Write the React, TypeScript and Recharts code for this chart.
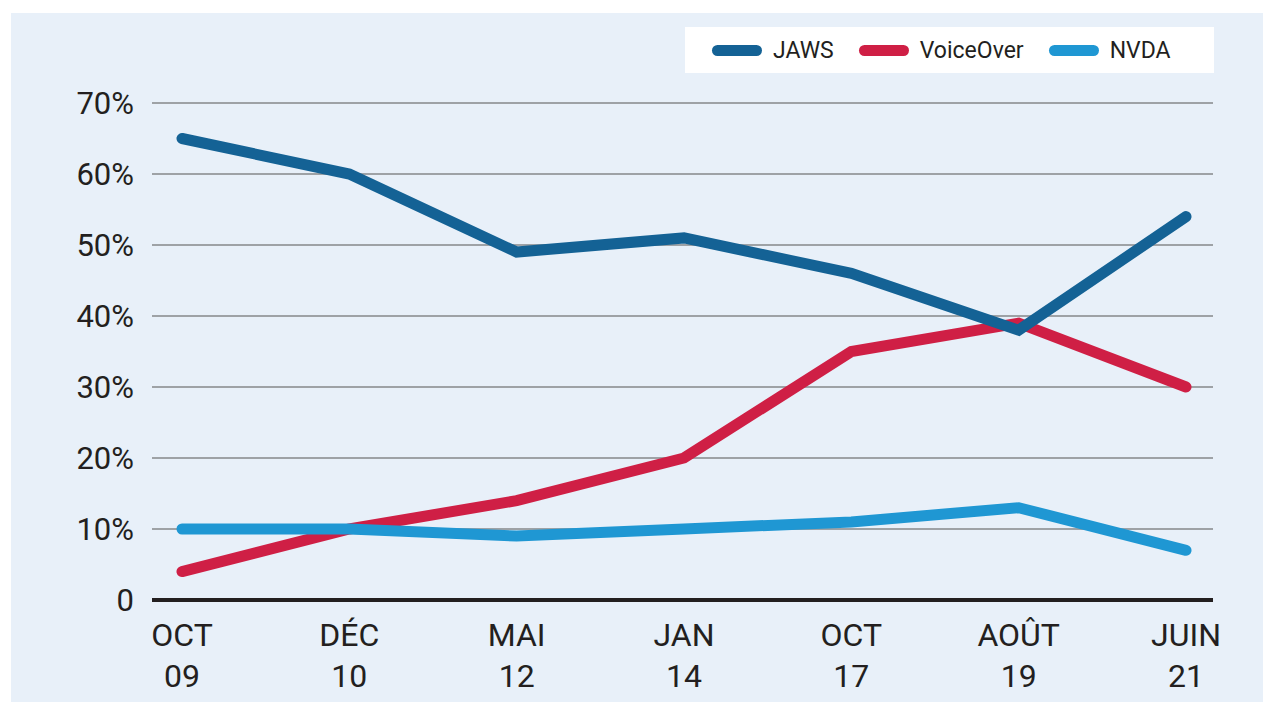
import React from "react";
import { LineChart, Line, XAxis, YAxis, CartesianGrid } from "recharts";

const months = ["OCT", "DÉC", "MAI", "JAN", "OCT", "AOÛT", "JUIN"];
const years = ["09", "10", "12", "14", "17", "19", "21"];
const jaws = [65, 60, 49, 51, 46, 38, 54];
const voiceOver = [4, 10, 14, 20, 35, 39, 30];
const nvda = [10, 10, 9, 10, 11, 13, 7];
const yTicks = [0, 10, 20, 30, 40, 50, 60, 70];

const seriesInfo = [
  { key: "jaws", name: "JAWS", color: "#146295" },
  { key: "voiceOver", name: "VoiceOver", color: "#cf1f45" },
  { key: "nvda", name: "NVDA", color: "#1f97d3" },
];

const data = months.map((m, i) => ({
  id: `${m} ${years[i]}`,
  month: m,
  year: years[i],
  jaws: jaws[i],
  voiceOver: voiceOver[i],
  nvda: nvda[i],
}));

const FONT = "Roboto, 'Open Sans', sans-serif";

const XTick = (props: any) => {
  const { x, y, index } = props;
  return (
    <g>
      <text x={x} y={y + 27} textAnchor="middle" dominantBaseline="central" fontSize={32} fill="#231f20" fontFamily={FONT}>
        {months[index]}
      </text>
      <text x={x} y={y + 68} textAnchor="middle" dominantBaseline="central" fontSize={32} fill="#231f20" fontFamily={FONT}>
        {years[index]}
      </text>
    </g>
  );
};

const YTick = (props: any) => {
  const { x, y, payload } = props;
  const v = payload.value;
  return (
    <text x={x} y={y} textAnchor="end" dominantBaseline="central" fontSize={31} fill="#231f20" fontFamily={FONT}>
      {v === 0 ? "0" : `${v}%`}
    </text>
  );
};

const LegendBox = () => (
  <div
    style={{
      position: "absolute",
      top: 14,
      left: 674,
      width: 529,
      height: 46,
      background: "#ffffff",
      display: "flex",
      alignItems: "center",
      boxSizing: "border-box",
      paddingLeft: 27,
      fontFamily: FONT,
      fontSize: 23,
      color: "#231f20",
    }}
  >
    {seriesInfo.map((s) => (
      <div key={s.key} style={{ display: "flex", alignItems: "center", marginRight: 25 }}>
        <div style={{ width: 50, height: 11, borderRadius: 6, background: s.color, marginRight: 11 }} />
        <span>{s.name}</span>
      </div>
    ))}
  </div>
);

export default function App() {
  return (
    <div style={{ position: "fixed", top: 0, left: 0, width: 1263, height: 702, background: "#ffffff" }}>
      <div style={{ position: "absolute", left: 11, top: 13, width: 1252, height: 689, background: "#e8f0f9" }}>
        <LineChart width={1252} height={689} data={data} margin={{ top: 90, right: 50, left: 0, bottom: 12 }}>
          <CartesianGrid vertical={false} stroke="#555" strokeWidth={1.2} />
          <XAxis
            dataKey="id"
            type="category"
            padding={{ left: 30, right: 27 }}
            axisLine={{ stroke: "#231f20", strokeWidth: 4 }}
            tickLine={false}
            tick={<XTick />}
            height={90}
            interval={0}
          />
          <YAxis
            width={141}
            domain={[0, 70]}
            ticks={yTicks}
            axisLine={false}
            tickLine={false}
            tickSize={0}
            tickMargin={18}
            tick={<YTick />}
          />
          <Line dataKey="voiceOver" name="VoiceOver" stroke="#cf1f45" strokeWidth={11} strokeLinecap="round" dot={false} activeDot={false} isAnimationActive={false} />
          <Line dataKey="jaws" name="JAWS" stroke="#146295" strokeWidth={11} strokeLinecap="round" dot={false} activeDot={false} isAnimationActive={false} />
          <Line dataKey="nvda" name="NVDA" stroke="#1f97d3" strokeWidth={11} strokeLinecap="round" dot={false} activeDot={false} isAnimationActive={false} />
        </LineChart>
        <LegendBox />
      </div>
    </div>
  );
}
